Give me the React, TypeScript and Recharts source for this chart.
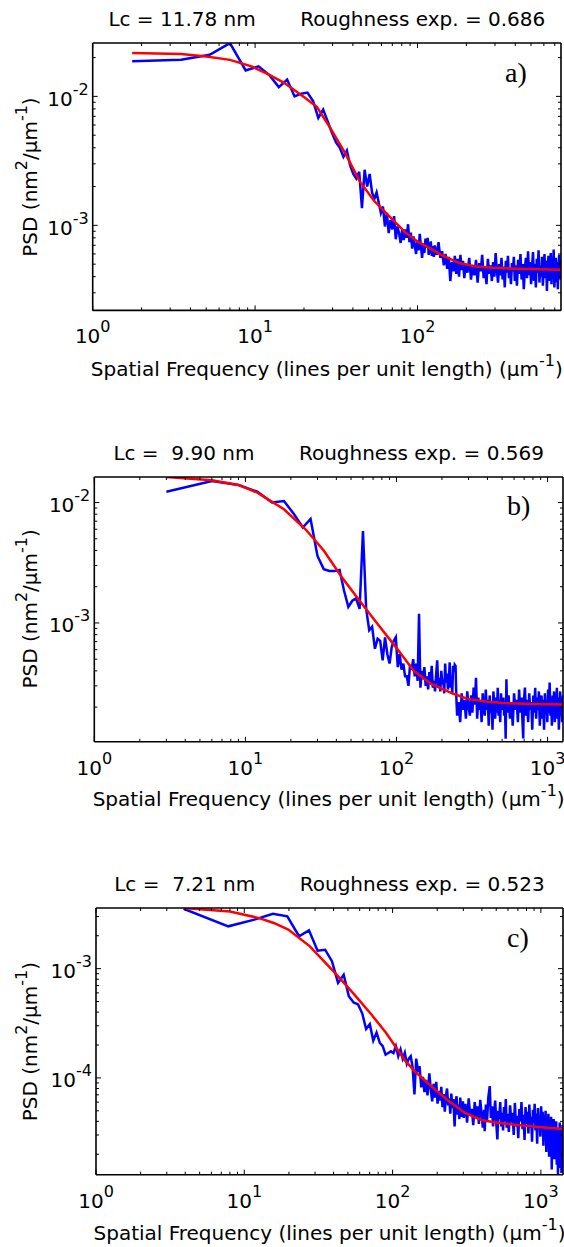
import { LineChart, Line, XAxis, YAxis } from "recharts"

// ---- panel a) ----
const blueA: [number, number][] = [
  [1.75, 0.0187], [3.5, 0.0192], [5.25, 0.021], [7, 0.0259], [8.75, 0.0159], [10.5, 0.0171], [12.25, 0.0146], [14, 0.0118],
  [15.75, 0.0135], [17.5, 0.01], [19.25, 0.0105], [21, 0.0107], [22.75, 0.0092], [24.5, 0.0068], [26.25, 0.0079], [28, 0.0064],
  [29.75, 0.0052], [31.5, 0.0044], [33.25, 0.004], [35, 0.0034], [36.75, 0.0038], [38.5, 0.0029], [40.25, 0.0025], [42, 0.0023],
  [43.75, 0.0026], [45.5, 0.00136], [47.25, 0.0027], [49, 0.002], [50.75, 0.0025], [52.5, 0.0018], [54.25, 0.0016], [56, 0.0018],
  [57.75, 0.0015], [59.5, 0.00125], [61.25, 0.0014], [63, 0.00098], [64.75, 0.00125], [66.5, 0.00087], [68.25, 0.0011], [70, 0.00093],
  [71.75, 0.00118], [73.5, 0.00078], [75.25, 0.00098], [77, 0.00087], [78.75, 0.00073], [80.5, 0.00093], [82.25, 0.00077], [84, 0.00093],
  [85.75, 8.0e-4], [87.5, 1.02e-3], [89.25, 7.4e-4], [91, 8.8e-4], [92.75, 6.6e-4], [94.5, 8.2e-4], [96.25, 7.0e-4], [98, 6.0e-4],
  [99.75, 7.6e-4], [101.5, 6.4e-4], [103.25, 8.6e-4], [105, 6.9e-4], [106.75, 5.6e-4], [108.5, 7.2e-4], [110.25, 6.1e-4], [112, 7.9e-4],
  [113.75, 6.7e-4], [115.5, 8.0e-4], [117.25, 5.9e-4], [119, 6.6e-4], [120.75, 7.5e-4], [122.5, 5.8e-4], [124.25, 6.9e-4], [126, 5.7e-4],
  [127.75, 7.0e-4], [129.5, 6.2e-4], [131.25, 5.9e-4], [134.75, 7.4e-4], [138.25, 5.6e-4], [141.75, 6.3e-4], [145.25, 4.9e-4], [148.75, 6.0e-4],
  [152.25, 4.6e-4], [155.75, 5.7e-4], [159.25, 3.7e-4], [162.75, 5.2e-4], [166.25, 4.4e-4], [169.75, 5.8e-4], [173.25, 4.2e-4], [176.75, 5.5e-4],
  [180.25, 4.0e-4], [183.75, 5.9e-4], [187.25, 4.5e-4], [190.75, 5.3e-4], [194.25, 3.9e-4], [197.75, 5.0e-4], [203, 4.3e-4], [208.25, 5.6e-4],
  [213.5, 3.8e-4], [218.75, 4.9e-4], [224, 4.1e-4], [229.25, 5.4e-4], [234.5, 3.6e-4], [239.75, 5.1e-4], [245, 4.4e-4], [250.25, 5.9e-4],
  [255.5, 3.9e-4], [260.75, 4.7e-4], [266, 3.5e-4], [271.25, 5.5e-4], [276.5, 4.2e-4], [281.75, 4.9e-4], [287, 3.7e-4], [292.25, 5.2e-4],
  [297.5, 4.0e-4], [302.75, 6.1e-4], [308, 4.5e-4], [313.25, 3.6e-4], [318.5, 5.0e-4], [323.75, 4.1e-4], [329, 5.6e-4], [334.25, 3.8e-4],
  [339.5, 4.8e-4], [344.75, 3.3e-4], [350, 5.3e-4], [355.25, 4.3e-4], [360.5, 5.8e-4], [365.75, 3.9e-4], [371, 4.6e-4], [376.25, 3.5e-4],
  [381.5, 5.1e-4], [386.75, 4.4e-4], [392, 5.7e-4], [397.25, 3.7e-4], [402.5, 4.9e-4], [409.5, 3.4e-4], [416.5, 5.4e-4], [423.5, 4.2e-4],
  [430.5, 6.0e-4], [437.5, 3.8e-4], [444.5, 5.0e-4], [451.5, 3.2e-4], [458.5, 4.7e-4], [465.5, 5.6e-4], [472.5, 3.9e-4], [479.5, 6.3e-4],
  [486.5, 4.1e-4], [493.5, 5.2e-4], [500.5, 3.5e-4], [507.5, 4.8e-4], [514.5, 6.2e-4], [521.5, 3.7e-4], [528.5, 5.0e-4], [535.5, 3.3e-4],
  [542.5, 5.5e-4], [549.5, 4.3e-4], [556.5, 6.4e-4], [563.5, 3.6e-4], [570.5, 4.9e-4], [577.5, 4.0e-4], [584.5, 5.7e-4], [591.5, 3.4e-4],
  [598.5, 4.6e-4], [605.5, 6.0e-4], [612.5, 3.9e-4], [619.5, 5.3e-4], [626.5, 3.1e-4], [633.5, 4.8e-4], [640.5, 5.8e-4], [647.5, 3.7e-4],
  [654.5, 4.5e-4], [661.5, 6.1e-4], [668.5, 3.5e-4], [675.5, 5.1e-4], [682.5, 4.2e-4], [689.5, 6.5e-4], [696.5, 3.3e-4], [703.5, 4.7e-4],
  [710.5, 5.6e-4], [717.5, 3.6e-4], [724.5, 5.2e-4], [731.5, 3.2e-4], [738.5, 4.9e-4], [745.5, 5.9e-4], [752.5, 3.8e-4], [759.5, 5.4e-4],
  [765, 4.4e-4],
]
const fitA: [number, number][] = [
  [1.75, 0.0217], [3.5, 0.0213], [5, 0.0204], [7, 0.0192], [9.5, 0.0171], [12, 0.0149], [15, 0.0128], [20, 0.0099],
  [24, 0.0083], [29, 0.0057], [36, 0.0036], [44, 0.0022], [54, 0.00155], [70, 0.00111], [85, 8.7e-4], [100, 7.5e-4],
  [113, 6.9e-4], [140, 5.9e-4], [181, 5.1e-4], [230, 4.8e-4], [291, 4.68e-4], [400, 4.6e-4], [550, 4.56e-4], [765, 4.53e-4],
]

// ---- panel b) ----
const blueB: [number, number][] = [
  [3, 0.0123], [6, 0.0151], [9, 0.014], [12, 0.0123], [15, 0.01], [18, 0.0103], [21, 0.008], [24, 0.0062],
  [27, 0.0073], [30, 0.0036], [33, 0.0028], [36, 0.0027], [39, 0.0027], [42, 0.00275], [45, 0.00185], [48, 0.00136],
  [51, 0.00153], [54, 0.0016], [57, 0.00131], [60, 0.0058], [63, 0.00131], [66, 0.00087], [69, 0.00093], [72, 0.00061],
  [75, 0.00074], [78, 0.00071], [81, 0.00049], [84, 0.00076], [87, 0.00055], [90, 0.00046], [93, 0.00063], [96, 0.00071],
  [99, 0.00076], [102, 0.00043], [105, 0.00055], [108, 0.00041], [111, 0.00046], [114, 0.00036], [117, 0.00036], [120, 0.0003],
  [123, 0.00045], [126, 0.00041], [129, 0.0005], [132, 0.00036], [135, 0.00046], [138, 0.00033], [141, 0.00119], [144, 0.00029],
  [147, 0.0004], [150, 3.4e-4], [153, 4.3e-4], [156, 3.0e-4], [159, 3.6e-4], [162, 2.8e-4], [165, 3.9e-4], [168, 3.1e-4],
  [171, 4.4e-4], [174, 2.9e-4], [177, 3.3e-4], [180, 2.7e-4], [183, 3.7e-4], [186, 4.9e-4], [189, 3.0e-4], [192, 3.5e-4],
  [195, 2.7e-4], [198, 4.0e-4], [201, 3.1e-4], [204, 3.4e-4], [207, 2.6e-4], [210, 4.6e-4], [213, 3.2e-4], [216, 3.8e-4],
  [219, 2.8e-4], [222, 3.3e-4], [225, 4.7e-4], [228, 2.9e-4], [231, 3.6e-4], [234, 2.6e-4], [237, 4.4e-4], [240, 3.9e-4],
  [243, 4.5e-4], [246, 4.4e-4], [249, 2.4e-4], [252, 1.7e-4], [258, 2.2e-4], [264, 1.5e-4], [270, 2.6e-4], [276, 1.9e-4],
  [282, 2.3e-4], [288, 1.6e-4], [294, 2.7e-4], [300, 2.0e-4], [306, 1.7e-4], [312, 2.5e-4], [318, 1.8e-4], [324, 2.9e-4],
  [330, 2.1e-4], [336, 3.5e-4], [342, 1.6e-4], [348, 2.4e-4], [354, 1.9e-4], [360, 2.2e-4], [366, 1.5e-4], [372, 2.6e-4],
  [378, 2.0e-4], [384, 1.7e-4], [390, 2.8e-4], [396, 1.9e-4], [402, 2.3e-4], [408, 1.4e-4], [414, 2.5e-4], [420, 1.8e-4],
  [426, 2.2e-4], [432, 1.3e-4], [438, 2.7e-4], [444, 2.0e-4], [450, 1.6e-4], [456, 2.4e-4], [462, 1.8e-4], [468, 2.9e-4],
  [474, 1.7e-4], [480, 2.3e-4], [486, 1.5e-4], [492, 2.6e-4], [498, 1.9e-4], [510, 2.4e-4], [516, 1.7e-4], [522, 2.2e-4],
  [528, 1.09e-4], [534, 3.4e-4], [540, 1.8e-4], [552, 2.5e-4], [564, 1.6e-4], [576, 2.2e-4], [588, 1.4e-4], [600, 2.6e-4],
  [612, 1.9e-4], [624, 2.3e-4], [636, 1.5e-4], [648, 2.8e-4], [660, 1.8e-4], [672, 2.4e-4], [684, 1.4e-4], [690, 1.1e-4],
  [696, 2.2e-4], [708, 2.9e-4], [720, 1.7e-4], [732, 2.3e-4], [744, 1.5e-4], [756, 2.6e-4], [768, 1.9e-4], [780, 2.2e-4],
  [792, 1.3e-4], [804, 2.5e-4], [816, 1.8e-4], [828, 2.9e-4], [840, 1.6e-4], [852, 2.4e-4], [864, 1.9e-4], [876, 2.7e-4],
  [888, 1.4e-4], [900, 2.1e-4], [912, 2.5e-4], [924, 1.6e-4], [936, 2.3e-4], [948, 1.3e-4], [960, 2.6e-4], [972, 1.9e-4],
  [984, 2.2e-4], [996, 1.5e-4], [1008, 2.8e-4], [1020, 1.8e-4], [1032, 3.2e-4], [1044, 1.7e-4], [1056, 2.3e-4], [1068, 1.4e-4],
  [1080, 2.5e-4], [1092, 1.9e-4], [1104, 2.7e-4], [1116, 1.5e-4], [1128, 2.2e-4], [1140, 1.8e-4], [1152, 2.9e-4], [1164, 1.6e-4],
  [1176, 2.4e-4], [1188, 1.3e-4], [1200, 2.1e-4], [1212, 2.7e-4], [1224, 1.7e-4], [1236, 2.3e-4], [1248, 1.5e-4], [1265, 2.5e-4],
]
const fitB: [number, number][] = [
  [3, 0.0163], [6, 0.0153], [9, 0.014], [12, 0.0121], [18, 0.0088], [25, 0.006], [33, 0.004], [43.5, 0.0024],
  [57, 0.00153], [75, 0.00098], [99, 0.00063], [130, 0.0004], [171, 0.00031], [238, 0.000258], [296, 0.000234], [400, 0.000222],
  [512, 0.000216], [800, 0.000212], [1265, 0.00021],
]

// ---- panel c) ----
const blueC: [number, number][] = [
  [3.9, 0.00353], [7.8, 0.00244], [11.7, 0.00281], [15.6, 0.00318], [19.5, 0.00301], [23.4, 0.00198], [27.3, 0.00224], [31.2, 0.00146],
  [35.1, 0.00149], [39, 0.00117], [42.9, 0.00074], [46.8, 0.00088], [50.7, 0.00056], [54.6, 0.00049], [58.5, 0.00047], [62.4, 0.00039],
  [66.3, 0.00028], [70.2, 0.00031], [74.1, 0.00022], [78, 0.00026], [81.9, 0.00021], [85.8, 0.000195], [89.7, 0.000163], [93.6, 0.000169],
  [97.5, 0.000175], [101.4, 0.000169], [105.3, 0.000195], [109.2, 0.000158], [113.1, 0.000182], [117, 0.00015], [120.9, 0.00017], [124.8, 0.000135],
  [128.7, 0.00015], [132.6, 0.000158], [136.5, 0.000125], [140.4, 7.05e-5], [144.3, 0.00015], [148.2, 0.000118], [152, 1.28e-4], [156, 8.2e-5],
  [160, 1.02e-4], [164, 7.4e-5], [168, 9.6e-5], [172, 6.9e-5], [177, 1.1e-4], [181, 7.8e-5], [185, 6.1e-5], [189, 8.8e-5],
  [193, 6.6e-5], [197, 9.2e-5], [201, 5.8e-5], [205, 7.6e-5], [209, 6.2e-5], [213, 8.3e-5], [217, 5.4e-5], [221, 7.1e-5],
  [225, 4.9e-5], [229, 6.8e-5], [233, 8.0e-5], [237, 5.6e-5], [241, 6.5e-5], [245, 4.7e-5], [249, 7.2e-5], [253, 5.3e-5],
  [257, 6.4e-5], [262, 3.6e-5], [266, 5.9e-5], [270, 6.8e-5], [274, 4.6e-5], [278, 5.7e-5], [282, 4.2e-5], [286, 6.6e-5],
  [290, 5.0e-5], [294, 4.4e-5], [298, 6.1e-5], [302, 4.3e-5], [310, 5.8e-5], [318, 3.9e-5], [326, 6.5e-5], [334, 4.5e-5],
  [342, 5.2e-5], [350, 3.7e-5], [358, 6.0e-5], [366, 4.4e-5], [374, 5.5e-5], [382, 3.8e-5], [390, 6.3e-5], [398, 4.7e-5],
  [406, 3.5e-5], [414, 5.1e-5], [418, 3.25e-5], [426, 5.7e-5], [434, 4.1e-5], [442, 6.6e-5], [452, 8.4e-5], [460, 4.3e-5],
  [468, 5.5e-5], [476, 3.6e-5], [484, 4.9e-5], [492, 6.2e-5], [500, 3.9e-5], [509, 2.73e-5], [516, 5.0e-5], [524, 4.2e-5],
  [532, 6.0e-5], [540, 3.6e-5], [548, 4.8e-5], [556, 3.3e-5], [564, 5.4e-5], [572, 4.0e-5], [580, 6.4e-5], [588, 3.5e-5],
  [596, 4.7e-5], [608, 3.2e-5], [620, 5.6e-5], [632, 3.9e-5], [644, 4.8e-5], [656, 3.0e-5], [668, 5.9e-5], [680, 3.6e-5],
  [692, 4.5e-5], [704, 2.8e-5], [716, 5.2e-5], [728, 4.0e-5], [740, 6.0e-5], [752, 3.4e-5], [764, 4.6e-5], [776, 2.7e-5],
  [788, 5.4e-5], [800, 3.8e-5], [812, 4.9e-5], [824, 3.1e-5], [836, 5.7e-5], [848, 3.5e-5], [860, 4.4e-5], [872, 2.6e-5],
  [884, 5.1e-5], [896, 3.9e-5], [908, 5.8e-5], [920, 3.3e-5], [932, 4.7e-5], [944, 2.5e-5], [956, 5.3e-5], [968, 3.6e-5],
  [980, 4.5e-5], [992, 2.9e-5], [1004, 5.5e-5], [1016, 3.7e-5], [1028, 4.9e-5], [1040, 2.4e-5], [1052, 4.6e-5], [1064, 3.2e-5],
  [1076, 5.0e-5], [1088, 2.1e-5], [1100, 4.3e-5], [1112, 3.0e-5], [1124, 4.7e-5], [1136, 1.9e-5], [1148, 4.1e-5], [1160, 2.7e-5],
  [1172, 4.4e-5], [1184, 1.45e-5], [1196, 3.8e-5], [1208, 2.5e-5], [1220, 4.2e-5], [1232, 1.8e-5], [1244, 3.6e-5], [1256, 2.2e-5],
  [1268, 4.0e-5], [1280, 1.6e-5], [1292, 3.4e-5], [1304, 1.31e-5], [1316, 3.1e-5], [1328, 2.0e-5], [1340, 3.9e-5], [1352, 1.5e-5],
  [1364, 3.3e-5], [1376, 1.35e-5], [1388, 2.8e-5], [1400, 3.7e-5], [1410, 2.4e-5],
]
const fitC: [number, number][] = [
  [3.9, 0.00359], [8, 0.00334], [12.6, 0.0029], [15.8, 0.00262], [19.8, 0.00228], [27.7, 0.0016], [41, 0.00091], [54, 0.0006],
  [72, 0.00038], [90, 0.00026], [112, 0.000169], [120, 0.000147], [141, 0.000115], [182, 8.4e-5], [230, 6.4e-5], [306, 4.8e-5],
  [400, 4.1e-5], [515, 3.88e-5], [700, 3.7e-5], [865, 3.6e-5], [1100, 3.5e-5], [1410, 3.4e-5],
]

// tick values
const xMajorA = [1, 10, 100]
const xMinorA = [2, 3, 4, 5, 6, 7, 8, 9, 20, 30, 40, 50, 60, 70, 80, 90, 200, 300, 400, 500, 600, 700]
const xMajorBC = [1, 10, 100, 1000]
const xMinorBC = [2, 3, 4, 5, 6, 7, 8, 9, 20, 30, 40, 50, 60, 70, 80, 90, 200, 300, 400, 500, 600, 700, 800, 900]
const yMajorA = [0.001, 0.01]
const yMinorA = [0.0003, 0.0004, 0.0005, 0.0006, 0.0007, 0.0008, 0.0009, 0.002, 0.003, 0.004, 0.005, 0.006, 0.007, 0.008, 0.009, 0.02]
const yMajorB = [0.001, 0.01]
const yMinorB = [0.0002, 0.0003, 0.0004, 0.0005, 0.0006, 0.0007, 0.0008, 0.0009, 0.002, 0.003, 0.004, 0.005, 0.006, 0.007, 0.008, 0.009]
const yMajorC = [0.0001, 0.001]
const yMinorC = [0.00002, 0.00003, 0.00004, 0.00005, 0.00006, 0.00007, 0.00008, 0.00009, 0.0002, 0.0003, 0.0004, 0.0005, 0.0006, 0.0007, 0.0008, 0.0009, 0.002, 0.003]

const titles = [
  "Lc = 11.78 nm       Roughness exp. = 0.686",
  "Lc =  9.90 nm       Roughness exp. = 0.569",
  "Lc =  7.21 nm       Roughness exp. = 0.523",
]
const letters = ["a)", "b)", "c)"]

const FONT = "'DejaVu Sans', sans-serif"
const W = 564
const CH = 432

const toRows = (pts: [number, number][]) => pts.map(([f, p]) => ({ f, p }))

const panels = [
  { blue: blueA, fit: fitA, xDom: [1, 765], yDom: [2.19e-4, 0.02594], xMaj: xMajorA, xMin: xMinorA, yMaj: yMajorA, yMin: yMinorA,
    left: 92.7, right: 561, top: 43.3, bottom: 310.7 },
  { blue: blueB, fit: fitB, xDom: [1, 1265], yDom: [1.03e-4, 0.0163], xMaj: xMajorBC, xMin: xMinorBC, yMaj: yMajorB, yMin: yMinorB,
    left: 94.3, right: 563, top: 476.5, bottom: 741.3 },
  { blue: blueC, fit: fitC, xDom: [1, 1410], yDom: [1.3e-5, 0.00359], xMaj: xMajorBC, xMin: xMinorBC, yMaj: yMajorC, yMin: yMinorC,
    left: 96, right: 563, top: 908.3, bottom: 1175 },
]

const exp10 = (v: number) => String(Math.round(Math.log10(v)))

function makeXTick(majors: number[], plotH: number) {
  return (props: any) => {
    const { x, y, payload } = props
    const v = payload.value
    const major = majors.includes(v)
    const len = major ? 5 : 3
    return (
      <g>
        <line x1={x} x2={x} y1={y} y2={y - len} stroke="#000" strokeWidth={1} />
        <line x1={x} x2={x} y1={y - plotH} y2={y - plotH + len} stroke="#000" strokeWidth={1} />
        {major && (
          <text x={x} y={y + 33} textAnchor="middle" fontFamily={FONT} fontSize={20} fill="#000">
            10<tspan dy={-11} fontSize={16}>{exp10(v)}</tspan>
          </text>
        )}
      </g>
    )
  }
}

function makeYTick(majors: number[], plotW: number) {
  return (props: any) => {
    const { x, y, payload } = props
    const v = payload.value
    const major = majors.some((m) => Math.abs(m - v) < m * 1e-6)
    const len = major ? 5 : 3
    return (
      <g>
        <line x1={x} x2={x + len} y1={y} y2={y} stroke="#000" strokeWidth={1} />
        <line x1={x + plotW} x2={x + plotW - len} y1={y} y2={y} stroke="#000" strokeWidth={1} />
        {major && (
          <text x={x - 4} y={y + 9.5} textAnchor="end" fontFamily={FONT} fontSize={20} fill="#000">
            10<tspan dy={-11} fontSize={16}>{exp10(v)}</tspan>
          </text>
        )}
      </g>
    )
  }
}

function Panel({ cfg }: { cfg: any }) {
  const plotH = cfg.bottom - cfg.top
  const plotW = cfg.right - cfg.left
  const chartTop = cfg.top - 43
  const axisStyle = { stroke: "#000", strokeWidth: 1.6 }
  return (
    <div style={{ position: "absolute", left: 0, top: chartTop, width: W, height: CH }}>
      <LineChart
        width={W}
        height={CH}
        margin={{ top: 42, left: cfg.left - 60, right: W - cfg.right - 1, bottom: CH - 43 - plotH - 30 }}
      >
        <XAxis
          dataKey="f"
          type="number"
          scale="log"
          domain={cfg.xDom}
          allowDataOverflow
          ticks={[...cfg.xMaj, ...cfg.xMin].sort((a: number, b: number) => a - b)}
          interval={0}
          tickSize={0}
          tickMargin={0}
          tickLine={false}
          tick={makeXTick(cfg.xMaj, plotH)}
          axisLine={axisStyle}
          height={30}
        />
        <XAxis xAxisId="top" orientation="top" type="number" scale="log" domain={cfg.xDom} allowDataOverflow
          tick={false} tickLine={false} axisLine={axisStyle} height={1} />
        <YAxis
          type="number"
          scale="log"
          domain={cfg.yDom}
          allowDataOverflow
          ticks={[...cfg.yMaj, ...cfg.yMin].sort((a: number, b: number) => a - b)}
          interval={0}
          tickSize={0}
          tickMargin={0}
          tickLine={false}
          tick={makeYTick(cfg.yMaj, plotW)}
          axisLine={axisStyle}
          width={60}
        />
        <YAxis yAxisId="right" orientation="right" type="number" scale="log" domain={cfg.yDom} allowDataOverflow
          tick={false} tickLine={false} axisLine={axisStyle} width={1} />
        <Line data={toRows(cfg.blue)} dataKey="p" type="linear" stroke="#0000ff" strokeWidth={2.5} dot={false} isAnimationActive={false} />
        <Line data={toRows(cfg.fit)} dataKey="p" type="linear" stroke="#ff0000" strokeWidth={2.5} dot={false} isAnimationActive={false} />
      </LineChart>
    </div>
  )
}

export default function App() {
  return (
    <div style={{ position: "absolute", left: 0, top: 0, width: W, height: 1247, background: "#fff", overflow: "hidden" }}>
      {panels.map((p, i) => (
        <Panel key={i} cfg={p} />
      ))}
      <svg width={W} height={1247} style={{ position: "absolute", left: 0, top: 0, pointerEvents: "none" }}>
        {panels.map((p, i) => {
          const cx = (p.left + p.right) / 2
          const cy = (p.top + p.bottom) / 2
          return (
            <g key={i} fontFamily={FONT} fill="#000">
              <text x={cx} y={p.top - 17} textAnchor="middle" fontSize={20} style={{ whiteSpace: "pre" }}>
                {titles[i]}
              </text>
              <text x={p.right - 56} y={p.top + 38.4} fontFamily="'Liberation Serif', serif" fontSize={28}>
                {letters[i]}
              </text>
              <text x={cx} y={p.bottom + 65} textAnchor="middle" fontSize={20}>
                Spatial Frequency (lines per unit length) (µm<tspan dy={-10} fontSize={16}>-1</tspan>
                <tspan dy={10}>)</tspan>
              </text>
              <text transform={`translate(37, ${cy}) rotate(-90)`} textAnchor="middle" fontSize={20}>
                PSD (nm<tspan dy={-10} fontSize={16}>2</tspan>
                <tspan dy={10}>/µm</tspan>
                <tspan dy={-10} fontSize={16}>-1</tspan>
                <tspan dy={10}>)</tspan>
              </text>
            </g>
          )
        })}
      </svg>
    </div>
  )
}
